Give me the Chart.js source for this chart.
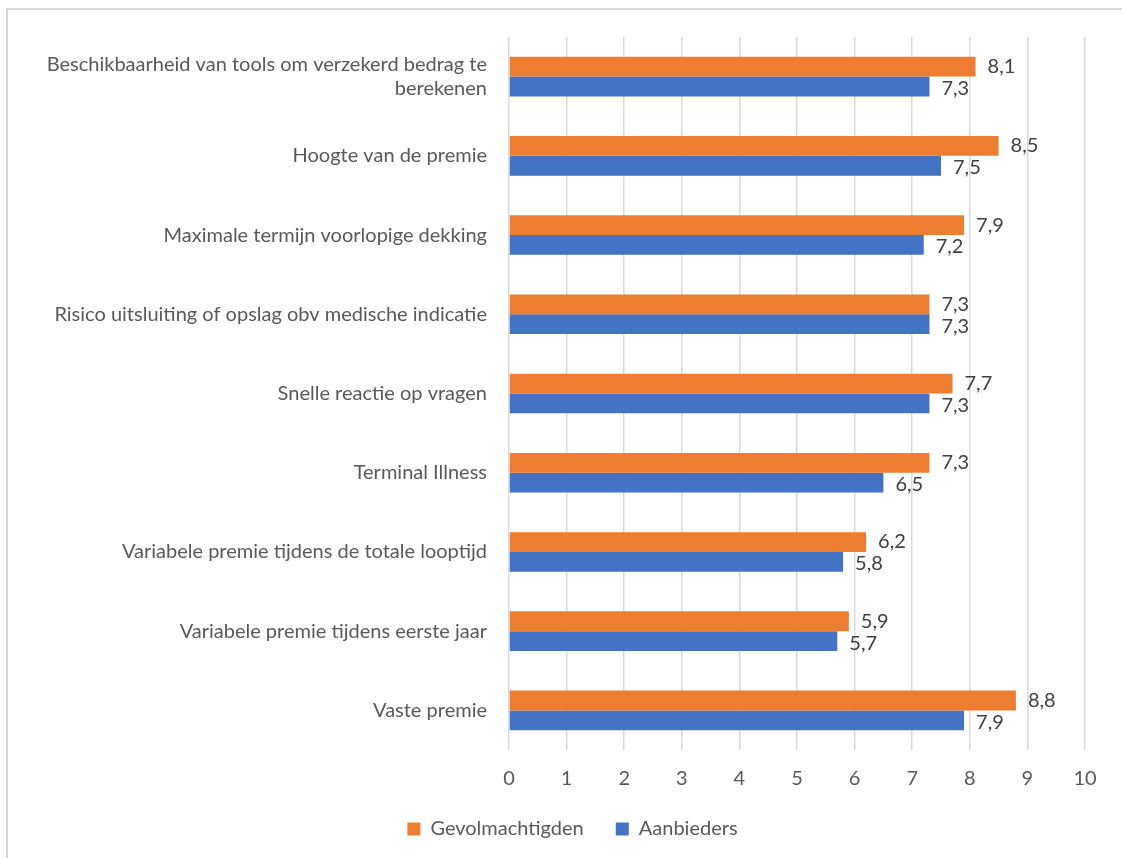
<!DOCTYPE html>
<html>
<head>
<meta charset="utf-8">
<script src="https://cdn.jsdelivr.net/npm/chart.js@4"></script>
<style>
  html, body { margin: 0; padding: 0; background: #fff; }
  #wrap { position: relative; width: 1122px; height: 858px; }
  #frame { position: absolute; left: 6px; top: 8px; right: 0; bottom: 0;
           border-left: 2px solid #d9d9d9; border-top: 2px solid #d9d9d9; }
  canvas { position: absolute; left: 0; top: 0; }
</style>
</head>
<body>
<div id="wrap">
  <div id="frame"></div>
  <canvas id="scoreChart" width="1122" height="858"></canvas>
</div>
<script>
const categorieen = [
  ['Beschikbaarheid van tools om verzekerd bedrag te', 'berekenen'],
  'Hoogte van de premie',
  'Maximale termijn voorlopige dekking',
  'Risico uitsluiting of opslag obv medische indicatie',
  'Snelle reactie op vragen',
  'Terminal Illness',
  'Variabele premie tijdens de totale looptijd',
  'Variabele premie tijdens eerste jaar',
  'Vaste premie'
];

const gevolmachtigden = [8.1, 8.5, 7.9, 7.3, 7.7, 7.3, 6.2, 5.9, 8.8];
const aanbieders      = [7.3, 7.5, 7.2, 7.3, 7.3, 6.5, 5.8, 5.7, 7.9];

const asTicks = [0, 1, 2, 3, 4, 5, 6, 7, 8, 9, 10];

const FONT = "Lato, 'Open Sans', sans-serif";

// labels with decimal comma right of each bar
const waardeLabels = {
  id: 'waardeLabels',
  afterDatasetsDraw(chart) {
    const c = chart.ctx;
    c.save();
    c.font = '20px ' + FONT;
    c.fillStyle = '#404040';
    c.textAlign = 'left';
    c.textBaseline = 'middle';
    chart.data.datasets.forEach((ds, i) => {
      chart.getDatasetMeta(i).data.forEach((bar, j) => {
        const txt = ds.data[j].toFixed(1).replace('.', ',');
        c.fillText(txt, bar.x + 12, bar.y + (i === 1 ? 2 : 0));
      });
    });
    c.restore();
  }
};

// legend sits a bit right of the canvas centre in the original
const legendeSchuif = {
  id: 'legendeSchuif',
  beforeDraw(chart) {
    if (chart.legend && !chart.legend._geschoven) {
      chart.legend.left += 30;
      chart.legend.right += 30;
      chart.legend._geschoven = true;
    }
  }
};

new Chart(document.getElementById('scoreChart'), {
  type: 'bar',
  data: {
    labels: categorieen,
    datasets: [
      {
        label: 'Gevolmachtigden',
        data: gevolmachtigden,
        backgroundColor: '#ED7D31',
        categoryPercentage: 0.5,
        barPercentage: 1.0
      },
      {
        label: 'Aanbieders',
        data: aanbieders,
        backgroundColor: '#4472C4',
        categoryPercentage: 0.5,
        barPercentage: 1.0
      }
    ]
  },
  options: {
    indexAxis: 'y',
    responsive: false,
    animation: false,
    layout: { padding: { top: 37, right: 37, left: 0, bottom: 9 } },
    plugins: {
      legend: {
        position: 'bottom',
        labels: {
          boxWidth: 13,
          boxHeight: 13,
          padding: 32,
          color: '#595959',
          font: { family: FONT, size: 20 }
        }
      },
      tooltip: { enabled: false }
    },
    scales: {
      x: {
        min: 0,
        max: 10,
        afterBuildTicks: s => { s.ticks = asTicks.map(v => ({ value: v })); },
        afterFit: s => { s.height = 37; },
        ticks: {
          padding: 17,
          color: '#595959',
          font: { family: FONT, size: 20 }
        },
        grid: { color: '#d9d9d9', lineWidth: 1.5, drawTicks: false },
        border: { display: false }
      },
      y: {
        afterFit: s => { s.width = 509; },
        ticks: {
          padding: 22,
          color: '#595959',
          font: { family: FONT, size: 20 }
        },
        grid: { display: false, drawTicks: false },
        border: { display: false }
      }
    }
  },
  plugins: [waardeLabels, legendeSchuif]
});
</script>
</body>
</html>
